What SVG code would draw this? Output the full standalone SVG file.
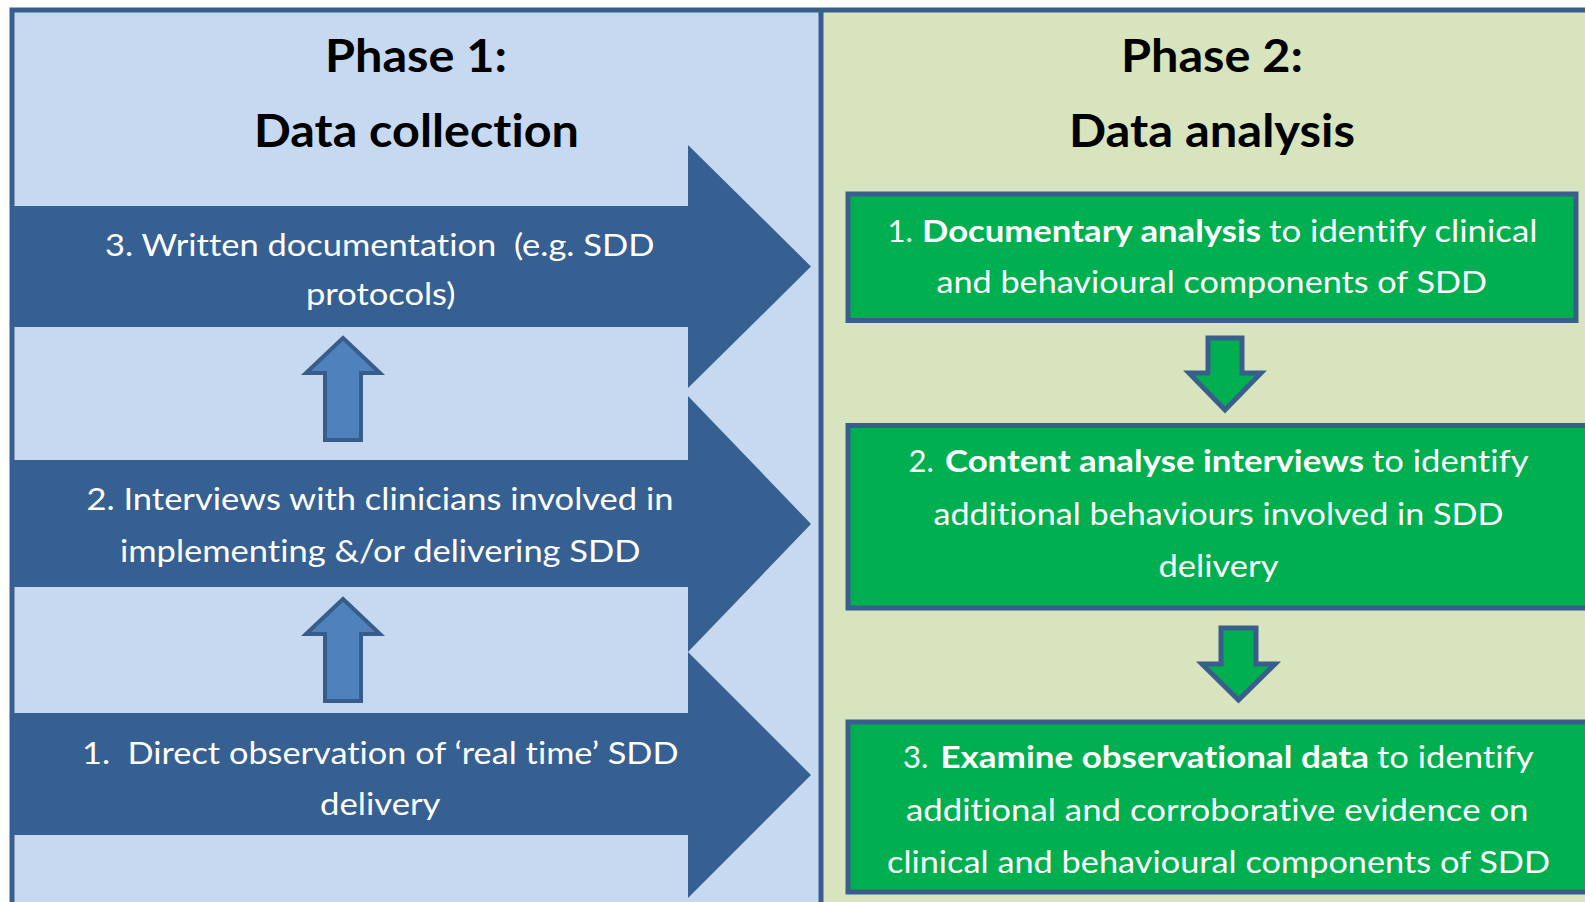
<svg xmlns="http://www.w3.org/2000/svg" width="1585" height="902" viewBox="0 0 1585 902">
  <style>
    .txt { font-family: Lato, "Open Sans", "Liberation Sans", sans-serif; font-variant-ligatures: none; }
    .title { font-size: 46px; font-weight: 700; fill: #000000; }
    .body { font-size: 31px; fill: #ffffff; }
    .bold { font-weight: 700; }
    .bigArrow { fill: #376092; }
    .upArrow { fill: #4F81BD; stroke: #385D8A; stroke-width: 4; stroke-linejoin: miter; }
    .downArrow { fill: #00B050; stroke: #3A5E8C; stroke-width: 5; stroke-linejoin: miter; }
    .step { fill: #00B050; stroke: #3A5E8C; stroke-width: 5; }
  </style>

  <!-- background panels -->
  <g id="panels">
    <rect x="12" y="10" width="809" height="900" fill="#C6D9F0"/>
    <rect x="821" y="10" width="780" height="900" fill="#D8E4BD"/>
    <rect x="12" y="10" width="1600" height="910" fill="none" stroke="#3A5E8C" stroke-width="5"/>
    <line x1="821" y1="10" x2="821" y2="902" stroke="#3A5E8C" stroke-width="5"/>
  </g>

  <!-- phase headings -->
  <g id="phase1-title" class="txt title">
    <text x="325" y="72" textLength="182" lengthAdjust="spacingAndGlyphs">Phase 1:</text>
    <text x="254" y="147" textLength="325" lengthAdjust="spacingAndGlyphs">Data collection</text>
  </g>
  <g id="phase2-title" class="txt title">
    <text x="1121" y="72" textLength="182" lengthAdjust="spacingAndGlyphs">Phase 2:</text>
    <text x="1069" y="147" textLength="286" lengthAdjust="spacingAndGlyphs">Data analysis</text>
  </g>

  <!-- Phase 1 collection steps: right-pointing block arrows -->
  <g id="collect-3">
    <path class="bigArrow" d="M10,206 H688 V145 L811,266.5 L688,388 V327 H10 Z"/>
    <text class="txt body" xml:space="preserve" x="105" y="256" textLength="549.5" lengthAdjust="spacingAndGlyphs">3. Written documentation  (e.g. SDD</text>
    <text class="txt body" x="306" y="305" textLength="149.5" lengthAdjust="spacingAndGlyphs">protocols)</text>
  </g>
  <g id="collect-2">
    <path class="bigArrow" d="M10,460 H688 V396 L811,524 L688,652 V587 H10 Z"/>
    <text class="txt body" x="86.5" y="510" textLength="587" lengthAdjust="spacingAndGlyphs">2. Interviews with clinicians involved in</text>
    <text class="txt body" x="120" y="562" textLength="520.5" lengthAdjust="spacingAndGlyphs">implementing &amp;/or delivering SDD</text>
  </g>
  <g id="collect-1">
    <path class="bigArrow" d="M10,713 H688 V652 L811,775 L688,898 V835 H10 Z"/>
    <text class="txt body" xml:space="preserve" x="82" y="763.5" textLength="596.5" lengthAdjust="spacingAndGlyphs">1.  Direct observation of ‘real time’ SDD</text>
    <text class="txt body" x="320" y="815" textLength="120.5" lengthAdjust="spacingAndGlyphs">delivery</text>
  </g>

  <!-- Phase 2 analysis steps -->
  <g id="analyse-1">
    <rect class="step" x="848" y="194" width="728" height="126.5"/>
    <text class="txt body" x="887.5" y="241.5">1.</text>
    <text class="txt body bold" x="922" y="241.5" textLength="339" lengthAdjust="spacingAndGlyphs">Documentary analysis</text>
    <text class="txt body" x="1269" y="241.5" textLength="268.5" lengthAdjust="spacingAndGlyphs">to identify clinical</text>
    <text class="txt body" x="936.5" y="292.5" textLength="550.5" lengthAdjust="spacingAndGlyphs">and behavioural components of SDD</text>
  </g>
  <g id="analyse-2">
    <rect class="step" x="848" y="425.5" width="760" height="182.5"/>
    <text class="txt body" x="908.5" y="472">2.</text>
    <text class="txt body bold" x="945" y="472" textLength="419" lengthAdjust="spacingAndGlyphs">Content analyse interviews</text>
    <text class="txt body" x="1372" y="472" textLength="156.5" lengthAdjust="spacingAndGlyphs">to identify</text>
    <text class="txt body" x="933.5" y="525" textLength="570" lengthAdjust="spacingAndGlyphs">additional behaviours involved in SDD</text>
    <text class="txt body" x="1158.5" y="576.5" textLength="120" lengthAdjust="spacingAndGlyphs">delivery</text>
  </g>
  <g id="analyse-3">
    <rect class="step" x="848" y="722" width="760" height="170"/>
    <text class="txt body" x="903" y="768">3.</text>
    <text class="txt body bold" x="940.5" y="768" textLength="428.5" lengthAdjust="spacingAndGlyphs">Examine observational data</text>
    <text class="txt body" x="1377" y="768" textLength="156.5" lengthAdjust="spacingAndGlyphs">to identify</text>
    <text class="txt body" x="906" y="821" textLength="622.5" lengthAdjust="spacingAndGlyphs">additional and corroborative evidence on</text>
    <text class="txt body" x="887" y="873" textLength="663" lengthAdjust="spacingAndGlyphs">clinical and behavioural components of SDD</text>
  </g>

  <!-- connectors between steps -->
  <g id="connectors">
    <polygon class="upArrow" points="343,338 380,373 361,373 361,440 325,440 325,373 306,373"/>
    <polygon class="upArrow" points="343,599 380,634 361,634 361,701 325,701 325,634 306,634"/>
    <polygon class="downArrow" points="1208,338 1242,338 1242,373 1261,373 1225,410 1189,373 1208,373"/>
    <polygon class="downArrow" points="1221,628 1256,628 1256,664 1275,664 1238.5,700 1202,664 1221,664"/>
  </g>
</svg>
